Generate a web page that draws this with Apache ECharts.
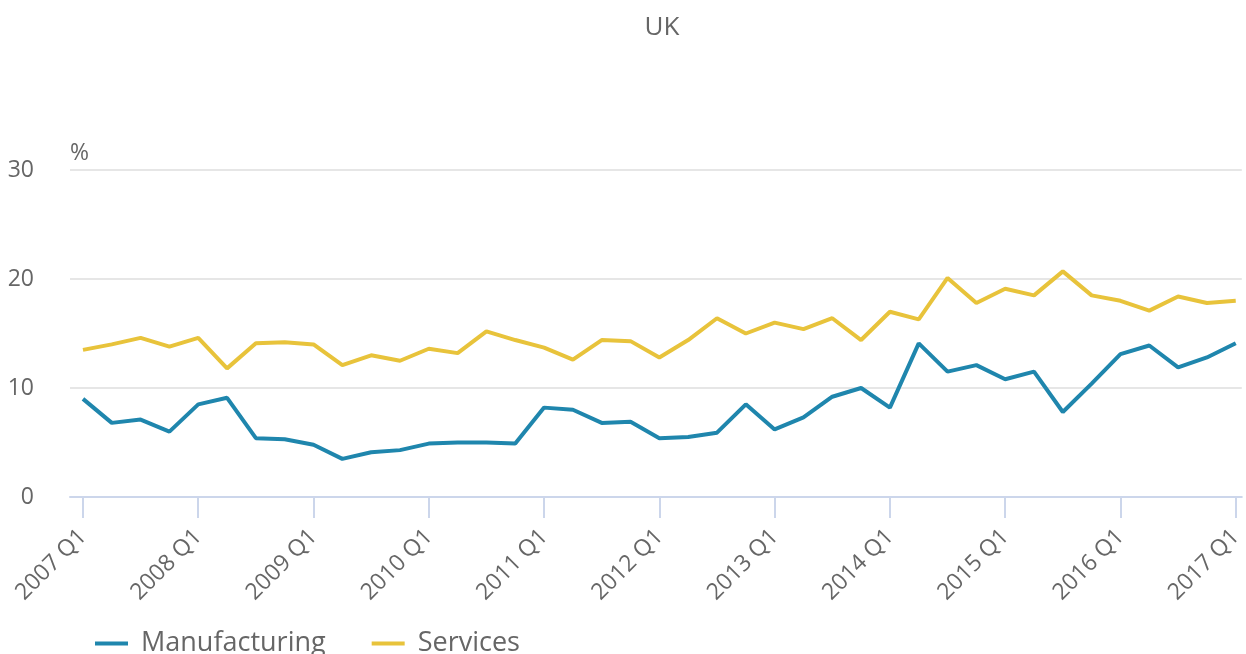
<!DOCTYPE html>
<html>
<head>
<meta charset="utf-8">
<title>UK</title>
<script src="https://cdn.jsdelivr.net/npm/echarts@6/dist/echarts.min.js"></script>
<style>
  html, body { margin: 0; padding: 0; background: #fff; }
  #main { width: 1246px; height: 654px; }
</style>
</head>
<body>
<div id="main"></div>
<script>
// 季度标签
var quarters = [
	'2007 Q1', '2007 Q2', '2007 Q3', '2007 Q4',
	'2008 Q1', '2008 Q2', '2008 Q3', '2008 Q4',
	'2009 Q1', '2009 Q2', '2009 Q3', '2009 Q4',
	'2010 Q1', '2010 Q2', '2010 Q3', '2010 Q4',
	'2011 Q1', '2011 Q2', '2011 Q3', '2011 Q4',
	'2012 Q1', '2012 Q2', '2012 Q3', '2012 Q4',
	'2013 Q1', '2013 Q2', '2013 Q3', '2013 Q4',
	'2014 Q1', '2014 Q2', '2014 Q3', '2014 Q4',
	'2015 Q1', '2015 Q2', '2015 Q3', '2015 Q4',
	'2016 Q1', '2016 Q2', '2016 Q3', '2016 Q4',
	'2017 Q1'
];
// 每年Q1显示一个刻度
var tickIndex = [0, 4, 8, 12, 16, 20, 24, 28, 32, 36, 40];

var manufacturing = [
	9.0, 6.8, 7.1, 6.0,
	8.5, 9.1, 5.4, 5.3,
	4.8, 3.5, 4.1, 4.3,
	4.9, 5.0, 5.0, 4.9,
	8.2, 8.0, 6.8, 6.9,
	5.4, 5.5, 5.9, 8.5,
	6.2, 7.3, 9.2, 10.0,
	8.2, 14.1, 11.5, 12.1,
	10.8, 11.5, 7.8, 10.4,
	13.1, 13.9, 11.9, 12.8,
	14.1
];
var services = [
	13.5, 14.0, 14.6, 13.8,
	14.6, 11.8, 14.1, 14.2,
	14.0, 12.1, 13.0, 12.5,
	13.6, 13.2, 15.2, 14.4,
	13.7, 12.6, 14.4, 14.3,
	12.8, 14.4, 16.4, 15.0,
	16.0, 15.4, 16.4, 14.4,
	17.0, 16.3, 20.1, 17.8,
	19.1, 18.5, 20.7, 18.5,
	18.0, 17.1, 18.4, 17.8,
	18.0
];

var textColor = '#666666';
var font = '"Open Sans", "Noto Sans", sans-serif';

function pairs(arr) {
	return arr.map(function (v, i) { return [i, v]; });
}

var chart = echarts.init(document.getElementById('main'));
var option = {
	animation: false,
	title: {
		text: 'UK',
		left: 657,
		textAlign: 'center',
		top: 10,
		textStyle: { color: textColor, fontSize: 26, fontWeight: 'normal', fontFamily: font }
	},
	legend: {
		left: 95,
		top: 630,
		padding: 0,
		icon: 'rect',
		itemWidth: 33,
		itemHeight: 4,
		itemGap: 46,
		textStyle: { color: textColor, fontSize: 27, fontFamily: font, padding: [0, 0, 0, 8] },
		data: ['Manufacturing', 'Services']
	},
	grid: { left: 70, right: 2, top: 170, bottom: 157 },
	xAxis: {
		type: 'value',
		min: -0.45,
		max: 40.21,
		splitLine: { show: false },
		axisLine: { show: true, lineStyle: { color: '#ccd6eb', width: 2 } },
		axisTick: {
			show: true,
			length: 21,
			customValues: tickIndex,
			lineStyle: { color: '#ccd6eb', width: 2 }
		},
		axisLabel: {
			customValues: tickIndex,
			rotate: 45,
			margin: 36,
			color: textColor,
			fontSize: 23,
			fontFamily: font,
			formatter: function (v) { return quarters[Math.round(v)]; }
		}
	},
	yAxis: {
		type: 'value',
		min: 0,
		max: 30,
		interval: 10,
		name: '%',
		nameLocation: 'end',
		nameGap: 5,
		nameTextStyle: { color: textColor, fontSize: 23, fontFamily: font, align: 'left', verticalAlign: 'bottom' },
		axisLine: { show: false, onZero: false },
		axisTick: { show: false },
		axisLabel: { color: textColor, fontSize: 23, fontFamily: font, margin: 36 },
		splitLine: { lineStyle: { color: '#e6e6e6', width: 2 } }
	},
	series: [
		{
			name: 'Manufacturing',
			type: 'line',
			data: pairs(manufacturing),
			showSymbol: false,
			symbol: 'none',
			color: '#1f86ad',
			lineStyle: { width: 4, color: '#1f86ad' }
		},
		{
			name: 'Services',
			type: 'line',
			data: pairs(services),
			showSymbol: false,
			symbol: 'none',
			color: '#e8c33b',
			lineStyle: { width: 4, color: '#e8c33b' }
		}
	]
};
chart.setOption(option);
</script>
</body>
</html>
